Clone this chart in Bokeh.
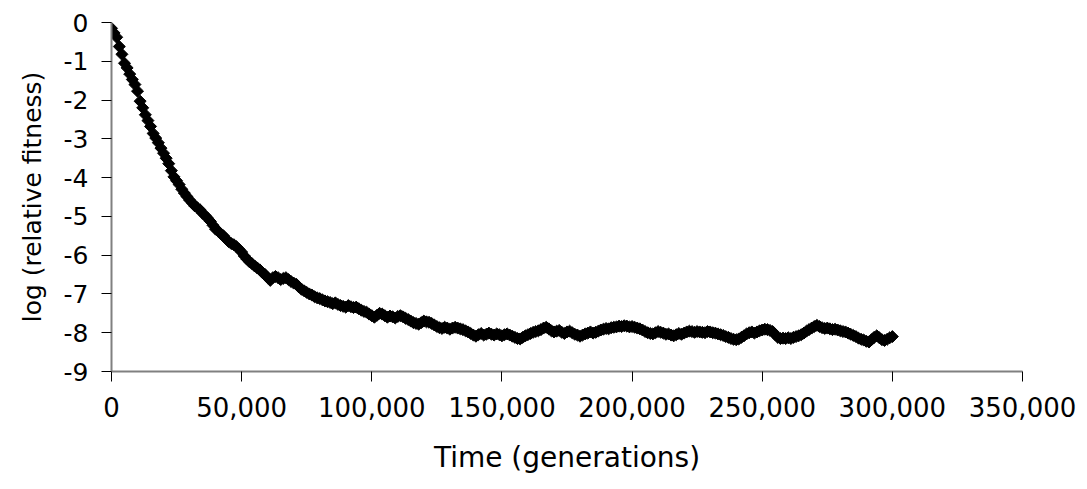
import math
from bokeh.plotting import figure
from bokeh.models import Range1d, FixedTicker, NumeralTickFormatter, ColumnDataSource
from bokeh.embed import file_html
from bokeh.resources import INLINE

# Time (generations), step of 1000
generations = [i * 1000 for i in range(301)]

log_rel_fitness = [
    -0.15, -0.27, -0.38, -0.62, -0.82, -1.05, -1.17, -1.33, -1.47, -1.60,
    -1.77, -2.03, -2.20, -2.38, -2.53, -2.68, -2.86, -2.98, -3.10, -3.24,
    -3.37, -3.50, -3.64, -3.82, -3.98, -4.08, -4.18, -4.30, -4.40, -4.49,
    -4.58, -4.65, -4.73, -4.78, -4.83, -4.92, -4.98, -5.05, -5.13, -5.23,
    -5.33, -5.38, -5.45, -5.50, -5.58, -5.65, -5.70, -5.73, -5.78, -5.85,
    -5.92, -6.02, -6.10, -6.17, -6.22, -6.28, -6.33, -6.38, -6.45, -6.50,
    -6.58, -6.65, -6.58, -6.55, -6.58, -6.63, -6.60, -6.58, -6.63, -6.68,
    -6.72, -6.75, -6.82, -6.88, -6.92, -6.96, -7.00, -7.03, -7.07, -7.10,
    -7.12, -7.15, -7.18, -7.20, -7.22, -7.25, -7.23, -7.27, -7.30, -7.32,
    -7.34, -7.30, -7.33, -7.35, -7.34, -7.38, -7.42, -7.45, -7.47, -7.52,
    -7.56, -7.60, -7.55, -7.50, -7.52, -7.56, -7.60, -7.57, -7.59, -7.62,
    -7.58, -7.56, -7.59, -7.63, -7.66, -7.70, -7.74, -7.76, -7.78, -7.74,
    -7.70, -7.72, -7.73, -7.76, -7.80, -7.84, -7.87, -7.89, -7.86, -7.88,
    -7.91, -7.88, -7.86, -7.88, -7.90, -7.92, -7.95, -7.98, -8.02, -8.06,
    -8.09, -8.05, -8.02, -8.06, -8.04, -8.01, -8.04, -8.06, -8.03, -8.05,
    -8.08, -8.05, -8.03, -8.06, -8.09, -8.12, -8.15, -8.16, -8.12, -8.08,
    -8.05, -8.02, -7.99, -7.97, -7.95, -7.92, -7.88, -7.86, -7.90, -7.95,
    -7.98, -7.96, -7.94, -7.99, -8.02, -7.98, -7.96, -8.00, -8.04, -8.06,
    -8.09, -8.06, -8.03, -8.01, -7.98, -8.01, -7.99, -7.96, -7.93, -7.91,
    -7.89, -7.90, -7.87, -7.86, -7.85, -7.83, -7.84, -7.82, -7.83, -7.85,
    -7.84, -7.86, -7.88, -7.90, -7.93, -7.97, -8.00, -8.02, -8.03, -8.00,
    -7.97, -7.99, -8.01, -8.04, -8.03, -8.06, -8.08, -8.05, -8.02, -8.04,
    -8.01, -7.98, -7.96, -7.97, -7.99, -7.97, -7.98, -7.99, -8.00, -7.97,
    -7.98, -8.00, -8.01, -8.03, -8.05, -8.07, -8.10, -8.12, -8.15, -8.17,
    -8.18, -8.16, -8.12, -8.08, -8.03, -8.00, -7.98, -8.01, -7.98, -7.95,
    -7.93, -7.91, -7.92, -7.94, -7.97, -8.05, -8.12, -8.15, -8.14, -8.15,
    -8.13, -8.15, -8.12, -8.10, -8.08, -8.05, -8.01, -7.96, -7.92, -7.88,
    -7.84, -7.81, -7.84, -7.87, -7.89, -7.88, -7.90, -7.92, -7.91, -7.93,
    -7.95, -7.97, -7.98, -8.01, -8.04, -8.07, -8.10, -8.14, -8.17, -8.19,
    -8.22, -8.24, -8.18, -8.12, -8.08, -8.13, -8.18, -8.20, -8.17, -8.13,
    -8.10,
]

x_ticks = [0, 50000, 100000, 150000, 200000, 250000, 300000, 350000]
y_ticks = [-9, -8, -7, -6, -5, -4, -3, -2, -1, 0]
y_tick_labels = ["-9", "-8", "-7", "-6", "-5", "-4", "-3", "-2", "-1", "0"]
x_title = "Time (generations)"
y_title = "log (relative fitness)"

FONT = "DejaVu Sans"

p = figure(
    width=1087, height=489,
    x_range=Range1d(0, 350000), y_range=Range1d(-9, 0),
    output_backend="svg", toolbar_location=None,
    min_border_left=111, min_border_right=65,
    min_border_top=22, min_border_bottom=118,
)
p.outline_line_color = None
p.xgrid.visible = False
p.ygrid.visible = False
p.background_fill_color = "white"
p.border_fill_color = "white"

src = ColumnDataSource(dict(x=generations, y=log_rel_fitness))
p.scatter("x", "y", source=src, marker="square", size=8.5, angle=math.pi / 4,
          fill_color="black", line_color="black", line_width=1)

for ax in (p.xaxis[0], p.yaxis[0]):
    ax.axis_line_color = "#808080"
    ax.axis_line_width = 2
    ax.major_tick_line_color = "#000000"
    ax.major_tick_line_width = 1
    ax.major_tick_out = 10
    ax.major_tick_in = 0
    ax.minor_tick_line_color = None
    ax.major_label_text_font = FONT
    ax.major_label_text_color = "black"
    ax.axis_label_text_font = FONT
    ax.axis_label_text_font_style = "normal"
    ax.axis_label_text_color = "black"

xa = p.xaxis[0]
xa.ticker = FixedTicker(ticks=x_ticks)
xa.formatter = NumeralTickFormatter(format="0,0")
xa.axis_label = x_title
xa.major_label_text_font_size = "26px"
xa.axis_label_text_font_size = "28px"
xa.major_label_standoff = 15
xa.axis_label_standoff = 21

ya = p.yaxis[0]
ya.ticker = FixedTicker(ticks=y_ticks)
ya.major_label_overrides = {t: s for t, s in zip(y_ticks, y_tick_labels)}
ya.axis_label = y_title
ya.major_label_text_font_size = "25px"
ya.axis_label_text_font_size = "25px"
ya.major_label_standoff = 13
ya.axis_label_standoff = 14

open("out.html", "w").write(file_html(p, INLINE))
